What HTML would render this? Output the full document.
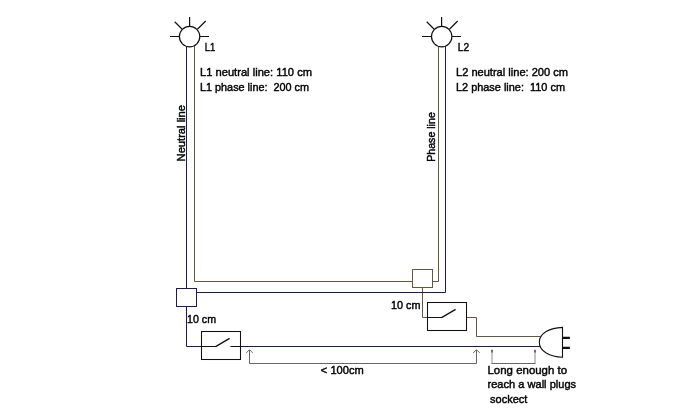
<!DOCTYPE html>
<html>
<head>
<meta charset="utf-8">
<title>Wiring diagram</title>
<style>
html,body{margin:0;padding:0;background:#fff;}
body{width:700px;height:415px;overflow:hidden;}
svg{display:block;will-change:transform;}
text{font-family:"Liberation Sans",sans-serif;font-size:11.5px;fill:#050505;stroke:#050505;stroke-width:0.45px;white-space:pre;}
.sm{font-size:11.2px;}
.bl{stroke:#16167e;stroke-width:1;fill:none;}
.br{stroke:#67553c;stroke-width:1;fill:none;}
.bk{stroke:#111;stroke-width:1.2;fill:none;}
.gr{stroke:#666;stroke-width:1;fill:none;}
</style>
</head>
<body>
<svg width="700" height="415" viewBox="0 0 700 415">
<rect width="700" height="415" fill="#fff"/>

<text class="sm" x="187" y="323" textLength="29" lengthAdjust="spacingAndGlyphs">10 cm</text>

<!-- phase (brown) wiring -->
<path class="br" d="M194.5,46 V281.5 H412.5 M432.5,281.5 H438.5 V46"/>
<rect class="br" x="412.5" y="269.5" width="20" height="18"/>
<path class="br" d="M422.5,287.5 V317.5 H427.5 M466.5,317.5 H476.5 V336.5 H540"/>

<!-- neutral (blue) wiring -->
<path class="bl" d="M186.5,46 V288.5 M186.5,306.5 V346.5 H201.5 M240.5,346.5 H540"/>
<rect class="bl" x="176.5" y="288.5" width="20" height="18"/>
<path class="bl" d="M196.5,292.5 H445.5 V46"/>

<!-- lamps -->
<g class="bk">
<circle cx="189.6" cy="36.6" r="10.2" fill="#fff"/>
<path d="M189.6,17 V26.4 M170,36.5 H179.4 M199.8,36.5 H209 M174.7,21.8 L182.2,29.2 M205.7,21 L197.4,29.2"/>
<circle cx="441.7" cy="36.6" r="10.2" fill="#fff"/>
<path d="M441.6,17 V26.4 M422,36.5 H431.4 M451.8,36.5 H461 M426.7,21.8 L434.2,29.2 M457.7,21 L449.4,29.2"/>
</g>

<!-- switches -->
<g class="bk" style="stroke-width:1.05">
<rect x="201.5" y="331.5" width="39" height="28"/>
<path d="M201.5,346.5 H216 M230.4,346.5 H240.5"/>
<path d="M215.6,346.6 L229.6,338.4" style="stroke-width:1.3"/>
<rect x="427.5" y="302.5" width="39" height="28"/>
<path d="M427.5,317.5 H442"/>
<path d="M441.6,317.6 L455.6,309.4" style="stroke-width:1.3"/>
</g>

<!-- plug -->
<path class="bk" d="M562.5,327.4 C550,328 539.3,333 539.3,342.2 C539.3,351.4 550,356.6 562.5,357.2 Z" style="fill:#fff;stroke-width:1.1"/>
<path class="bk" d="M562.5,337.9 H569.9 M562.5,347.9 H569.9" style="stroke-width:2.2"/>

<!-- dimension lines -->
<g class="gr">
<path d="M249.5,350 V363.5 H476.5 V350"/>
<path d="M246.3,352.9 L249.5,349.7 L252.7,352.9 M473.3,352.9 L476.5,349.7 L479.7,352.9"/>
<path d="M492,350.4 V363.4 M535,350.4 V363.4" style="stroke:#8a8a8a"/>
<path d="M491.5,363.5 H535.5"/>
<path d="M492,349.8 V352.6 M535,349.8 V352.6" style="stroke:#3c3c3c;stroke-width:1.3"/>
</g>

<!-- labels -->
<text x="204.8" y="51" textLength="10.4" lengthAdjust="spacingAndGlyphs">L1</text>
<text x="457.8" y="51" textLength="11.4" lengthAdjust="spacingAndGlyphs">L2</text>
<text x="200" y="76" textLength="112" lengthAdjust="spacingAndGlyphs">L1 neutral line: 110 cm</text>
<text x="200" y="90.8" textLength="109" lengthAdjust="spacingAndGlyphs">L1 phase line:  200 cm</text>
<text x="456" y="76" textLength="112" lengthAdjust="spacingAndGlyphs">L2 neutral line: 200 cm</text>
<text x="456" y="90.8" textLength="109" lengthAdjust="spacingAndGlyphs">L2 phase line:  110 cm</text>
<text transform="translate(184.8,161.4) rotate(-90)" textLength="56.4" lengthAdjust="spacingAndGlyphs">Neutral line</text>
<text transform="translate(434.5,161.8) rotate(-90)" textLength="49.6" lengthAdjust="spacingAndGlyphs">Phase line</text>
<text class="sm" x="391" y="308.8" textLength="29.4" lengthAdjust="spacingAndGlyphs">10 cm</text>
<text class="sm" x="320.8" y="374.1" textLength="43" lengthAdjust="spacingAndGlyphs">&lt; 100cm</text>
<text x="487.5" y="374.3" textLength="79.6" lengthAdjust="spacingAndGlyphs">Long enough to</text>
<text x="487.5" y="388.2" textLength="88.6" lengthAdjust="spacingAndGlyphs">reach a wall plugs</text>
<text x="487" y="402.6" textLength="40.4" lengthAdjust="spacingAndGlyphs"> sockect</text>
</svg>
</body>
</html>
